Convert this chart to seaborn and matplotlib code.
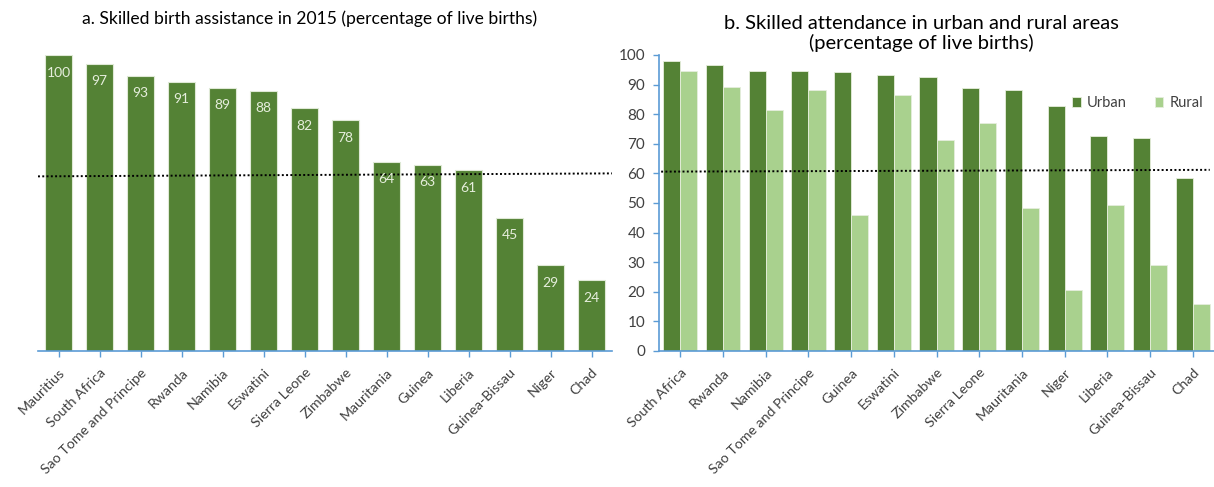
import matplotlib
matplotlib.use("Agg")
import matplotlib.pyplot as plt
import seaborn as sns
import pandas as pd

# ---------------- data ----------------
left_countries = ['Mauritius', 'South Africa', 'Sao Tome and Principe', 'Rwanda', 'Namibia',
                  'Eswatini', 'Sierra Leone', 'Zimbabwe', 'Mauritania', 'Guinea', 'Liberia',
                  'Guinea-Bissau', 'Niger', 'Chad']
left_values = [100, 97, 93, 91, 89, 88, 82, 78, 64, 63, 61, 45, 29, 24]
left_avg = [59.0, 60.0]

right_countries = ['South Africa', 'Rwanda', 'Namibia', 'Sao Tome and Principe', 'Guinea',
                   'Eswatini', 'Zimbabwe', 'Sierra Leone', 'Mauritania', 'Niger', 'Liberia',
                   'Guinea-Bissau', 'Chad']
urban_values = [98.0, 96.5, 94.6, 94.6, 94.1, 93.1, 92.7, 88.7, 88.3, 82.9, 72.8, 71.8, 58.6]
rural_values = [94.7, 89.2, 81.4, 88.3, 45.9, 86.4, 71.3, 77.0, 48.4, 20.6, 49.3, 29.0, 15.8]
right_avg = [60.6, 61.2]
right_yticks = [0, 10, 20, 30, 40, 50, 60, 70, 80, 90, 100]

title_a = 'a. Skilled birth assistance in 2015 (percentage of live births)'
title_b = 'b. Skilled attendance in urban and rural areas\n(percentage of live births)'

# ---------------- style ----------------
sns.set_theme(style="white")
plt.rcParams['font.family'] = ['Lato', 'DejaVu Sans']
DARK = '#548235'
LIGHT = '#a9d18e'
AXIS = '#5b9bd5'
TXT = '#404040'

fig = plt.figure(figsize=(12.14, 4.87), dpi=100)
W, H = 1214, 487

def box(x0, y_top, x1, y_bot):
    return [x0 / W, 1 - y_bot / H, (x1 - x0) / W, (y_bot - y_top) / H]

ax1 = fig.add_axes(box(38, 55, 612, 351))
ax2 = fig.add_axes(box(659, 55, 1214, 351))

# ---------- panel a ----------
df_a = pd.DataFrame({'country': left_countries, 'value': left_values})
sns.barplot(data=df_a, x='country', y='value', color=DARK, saturation=1, width=0.67,
            edgecolor='#dfe9d6', linewidth=0.8, ax=ax1)
ax1.bar_label(ax1.containers[0], fmt='%d', padding=-17, color='#e6eedd', fontsize=10)
ax1.plot([-0.5, 13.5], left_avg, color='black', linestyle=(0, (1, 1.2)), linewidth=1.4)
ax1.set_xlim(-0.5, 13.5)
ax1.set_ylim(0, 100)
ax1.set_yticks([])
ax1.set_xlabel('')
ax1.set_ylabel('')
for s in ['top', 'right', 'left']:
    ax1.spines[s].set_visible(False)
ax1.spines['bottom'].set_color(AXIS)
ax1.spines['bottom'].set_linewidth(1.2)
ax1.tick_params(axis='x', bottom=True, length=4, color=AXIS, width=1, direction='out',
                labelsize=10.2, labelcolor=TXT, pad=7)
plt.setp(ax1.get_xticklabels(), rotation=45, ha='right', rotation_mode='anchor')
ax1.set_title(title_a, fontsize=12.6, color='black', x=(310 - 38) / 574, y=1.0,
              pad=22)

# ---------- panel b ----------
df_b = pd.DataFrame({
    'country': right_countries * 2,
    'value': urban_values + rural_values,
    'area': ['Urban'] * len(right_countries) + ['Rural'] * len(right_countries),
})
sns.barplot(data=df_b, x='country', y='value', hue='area', palette=[DARK, LIGHT],
            saturation=1, width=0.8, edgecolor='#e6eedd', linewidth=0.6, ax=ax2)
ax2.plot([-0.45, 12.4], right_avg, color='black', linestyle=(0, (1, 1.2)), linewidth=1.4)
ax2.set_xlim(-0.5, 12.5)
ax2.set_ylim(0, 100)
ax2.set_yticks(right_yticks)
ax2.set_xlabel('')
ax2.set_ylabel('')
for s in ['top', 'right']:
    ax2.spines[s].set_visible(False)
for s in ['bottom', 'left']:
    ax2.spines[s].set_color(AXIS)
    ax2.spines[s].set_linewidth(1.2)
ax2.tick_params(axis='x', bottom=True, length=4, color=AXIS, width=1, direction='out',
                labelsize=10.2, labelcolor=TXT, pad=7)
ax2.tick_params(axis='y', left=True, length=4, color=AXIS, width=1, direction='out',
                labelsize=11, labelcolor=TXT, pad=6)
plt.setp(ax2.get_xticklabels(), rotation=45, ha='right', rotation_mode='anchor')
ax2.set_title(title_b, fontsize=14.5, color='black', linespacing=1.15, pad=4,
              x=(921 - 659) / 555)
leg = ax2.legend(loc='upper right', bbox_to_anchor=(1.005, 0.905), ncol=2, frameon=False,
                 fontsize=10.5, handlelength=0.6, handleheight=0.6, handletextpad=0.45,
                 columnspacing=1.9, labelcolor=TXT)

fig.savefig('out.png', dpi=100)
